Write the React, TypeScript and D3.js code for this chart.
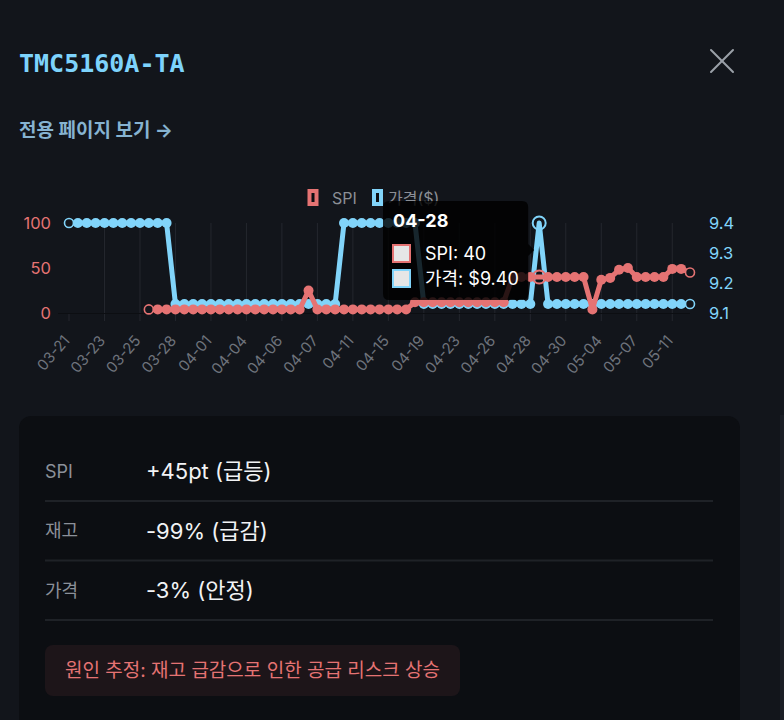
import React, { useEffect } from 'react';
import * as d3 from 'd3';

// ---------- data ----------
const categories: string[] = [
  '03-21', '03-21', '03-22', '03-22', '03-23', '03-23', '03-24', '03-24', '03-25', '03-25',
  '03-26', '03-27', '03-28', '03-29', '03-30', '03-31', '04-01', '04-02', '04-02', '04-03',
  '04-04', '04-04', '04-05', '04-05', '04-06', '04-06', '04-06', '04-07', '04-07', '04-08',
  '04-09', '04-10', '04-11', '04-12', '04-13', '04-14', '04-15', '04-16', '04-17', '04-18',
  '04-19', '04-20', '04-21', '04-22', '04-23', '04-24', '04-25', '04-25', '04-26', '04-27',
  '04-27', '04-28', '04-28', '04-28', '04-29', '04-29', '04-30', '05-01', '05-02', '05-03',
  '05-04', '05-05', '05-06', '05-06', '05-07', '05-08', '05-09', '05-10', '05-11', '05-12',
  '05-13',
];

const spiValues: (number | null)[] = [
  null, null, null, null, null, null, null, null, null, 4,
  4, 4, 4, 4, 4, 4, 4, 4, 4, 4,
  4, 4, 4, 4, 4, 4, 4, 25, 4, 4,
  4, 4, 4, 4, 4, 4, 4, 4, 4, 12,
  12, 12, 12, 12, 12, 12, 12, 12, 12, 12,
  40, 40, 40, 40, 40, 40, 40, 40, 40, 4,
  37, 39, 48, 50, 40, 40, 40, 40, 49, 49,
  45,
];

const priceValues: number[] = [
  9.4, 9.4, 9.4, 9.4, 9.4, 9.4, 9.4, 9.4, 9.4, 9.4,
  9.4, 9.4, 9.13, 9.13, 9.13, 9.13, 9.13, 9.13, 9.13, 9.13,
  9.13, 9.13, 9.13, 9.13, 9.13, 9.13, 9.13, 9.13, 9.13, 9.13,
  9.13, 9.4, 9.4, 9.4, 9.4, 9.4, 9.4, 9.4, 9.4, 9.4,
  9.13, 9.13, 9.13, 9.13, 9.13, 9.13, 9.13, 9.13, 9.13, 9.13,
  9.13, 9.13, 9.13, 9.4, 9.13, 9.13, 9.13, 9.13, 9.13, 9.13,
  9.13, 9.13, 9.13, 9.13, 9.13, 9.13, 9.13, 9.13, 9.13, 9.13,
  9.13,
];

const leftTicks = [0, 50, 100];
const rightTicks = [9.1, 9.2, 9.3, 9.4];
const tickStep = 4;
const hoverIndex = 53;
const legendLabels = ['SPI', '가격($)'];
const tooltipTitle = '04-28';
const tooltipLines = ['SPI: 40', '가격: $9.40'];
const tableLabels = ['SPI', '재고', '가격'];
const tableValues = ['+45pt (급등)', '-99% (급감)', '-3% (안정)'];
const partName = 'TMC5160A-TA';
const linkText = '전용 페이지 보기 →';
const causeText = '원인 추정: 재고 급감으로 인한 공급 리스크 상승';

// ---------- styles ----------
const BG = '#12151b';
const CARD = '#0c0e12';
const RED = '#e57373';
const BLUE = '#81d4fa';
const FONT = "Inter, 'Noto Sans CJK KR', 'Noto Sans', sans-serif";

export default function App() {
  useEffect(() => {
    document.body.style.margin = '0';
    document.body.style.background = BG;
  }, []);

  const W = 784;
  const H = 720;
  const left = 69;
  const right = 690;
  const top = 223;
  const bottom = 313;

  const x = d3.scalePoint<number>().domain(d3.range(categories.length)).range([left, right]);
  const yL = d3.scaleLinear().domain([0, 100]).range([bottom, top]);
  const yR = d3.scaleLinear().domain([9.1, 9.4]).range([bottom, top]);

  const spiLine = d3
    .line<number | null>()
    .defined((d) => d != null)
    .x((_, i) => x(i) as number)
    .y((d) => yL(d as number));
  const priceLine = d3
    .line<number>()
    .x((_, i) => x(i) as number)
    .y((d) => yR(d));

  const tickIdx = d3.range(0, categories.length, tickStep);
  const lastIdx = categories.length - 1;
  const firstSpi = spiValues.findIndex((v) => v != null);

  const hx = x(hoverIndex) as number;
  const hyP = yR(priceValues[hoverIndex]);
  const hyS = yL(spiValues[hoverIndex] as number);
  const caretY = (hyP + hyS) / 2;
  const tipRight = hx - 11;
  const tipLeft = 383;
  const tipTop = 201;
  const tipBottom = 300;

  const pointR = 5;

  const renderPoints = (
    vals: (number | null)[],
    yScale: (v: number) => number,
    color: string,
    first: number
  ) =>
    vals.map((v, i) => {
      if (v == null || i === hoverIndex) return null;
      const cx = x(i) as number;
      const cy = yScale(v);
      const hollow = i === first || i === lastIdx;
      return hollow ? (
        <circle key={i} cx={cx} cy={cy} r={pointR - 0.5} fill={BG} stroke={color} strokeWidth={1.6} />
      ) : (
        <circle key={i} cx={cx} cy={cy} r={pointR} fill={color} />
      );
    });

  return (
    <svg
      width={W}
      height={H}
      style={{ position: 'absolute', left: 0, top: 0, display: 'block' }}
      fontFamily={FONT}
    >
      <rect x={0} y={0} width={W} height={H} fill={BG} />
      <rect x={780} y={0} width={4} height={415} fill="#15181e" />
      <rect x={780} y={415} width={4} height={305} fill="#1b1e25" />

      {/* header */}
      <text
        x={19}
        y={63}
        dominantBaseline="central"
        fontFamily="'DejaVu Sans Mono', 'Liberation Mono', monospace"
        fontSize={25}
        fontWeight={600}
        fill="#7dd3fc"
      >
        {partName}
      </text>
      <g stroke="#9aa0a8" strokeWidth={2} strokeLinecap="round">
        <line x1={711} y1={50} x2={733} y2={72} />
        <line x1={733} y1={50} x2={711} y2={72} />
      </g>
      <text x={19} y={130} dominantBaseline="central" fontSize={19} fontWeight={700} fill="#86b3d1">
        {linkText}
      </text>

      {/* legend */}
      <rect x={309.5} y={191} width={7} height={13} fill="#0d0f13" stroke={RED} strokeWidth={4} />
      <text x={332} y={198} dominantBaseline="central" fontSize={16} fill="#8b8f96">
        {legendLabels[0]}
      </text>
      <rect x={374} y={191} width={7} height={13} fill="#0d0f13" stroke={BLUE} strokeWidth={4} />
      <text x={388} y={198} dominantBaseline="central" fontSize={16} fill="#8b8f96">
        {legendLabels[1]}
      </text>

      {/* grid */}
      <g stroke="#24272e" strokeWidth={1}>
        {tickIdx.map((i) => (
          <line
            key={i}
            x1={x(i) as number}
            x2={x(i) as number}
            y1={i === 0 ? bottom : top}
            y2={bottom + 8}
          />
        ))}
      </g>
      <line x1={58} x2={right} y1={bottom + 0.5} y2={bottom + 0.5} stroke="#0c0e12" strokeWidth={1} />

      {/* left axis */}
      {leftTicks.map((t) => (
        <text key={t} x={51} y={yL(t)} textAnchor="end" dominantBaseline="central" fontSize={16.5} fill={RED}>
          {t}
        </text>
      ))}
      {/* right axis */}
      {rightTicks.map((t) => (
        <text key={t} x={709} y={yR(t)} textAnchor="start" dominantBaseline="central" fontSize={16.5} fill={BLUE}>
          {t.toFixed(1)}
        </text>
      ))}
      {/* x labels */}
      {tickIdx.map((i) => (
        <text
          key={i}
          transform={`translate(${(x(i) as number) - 2.6},${337.6}) rotate(-49)`}
          textAnchor="end"
          dominantBaseline="central"
          fontSize={15}
          fill="#6e737c"
        >
          {categories[i]}
        </text>
      ))}

      {/* price series (drawn below) */}
      <path d={priceLine(priceValues) || ''} fill="none" stroke={BLUE} strokeWidth={5} strokeLinejoin="round" />
      {renderPoints(priceValues, yR, BLUE, 0)}

      {/* SPI series */}
      <path d={spiLine(spiValues) || ''} fill="none" stroke={RED} strokeWidth={5} strokeLinejoin="round" />
      {renderPoints(spiValues, yL, RED, firstSpi)}

      {/* hover rings */}
      <circle cx={hx} cy={hyP} r={6.5} fill="none" stroke={BLUE} strokeWidth={2} />
      <circle cx={hx} cy={hyS} r={6.5} fill="none" stroke={RED} strokeWidth={2} />

      {/* tooltip */}
      <g>
        <path
          d={`M${tipLeft + 6},${tipTop} H${tipRight - 6} Q${tipRight},${tipTop} ${tipRight},${tipTop + 6} V${caretY - 6} L${tipRight + 6},${caretY} L${tipRight},${caretY + 6} V${tipBottom - 6} Q${tipRight},${tipBottom} ${tipRight - 6},${tipBottom} H${tipLeft + 6} Q${tipLeft},${tipBottom} ${tipLeft},${tipBottom - 6} V${tipTop + 6} Q${tipLeft},${tipTop} ${tipLeft + 6},${tipTop} Z`}
          fill="rgba(0,0,0,0.82)"
        />
        <text x={393} y={220} dominantBaseline="central" fontSize={18} fontWeight={700} fill="#ffffff">
          {tooltipTitle}
        </text>
        <rect x={393} y={245} width={17} height={17} fill="#e6e6e6" stroke={RED} strokeWidth={2} />
        <text x={425} y={253} dominantBaseline="central" fontSize={18} fill="#ffffff">
          {tooltipLines[0]}
        </text>
        <rect x={393} y={270} width={17} height={17} fill="#e6e6e6" stroke={BLUE} strokeWidth={2} />
        <text x={425} y={278.5} dominantBaseline="central" fontSize={18} fill="#ffffff">
          {tooltipLines[1]}
        </text>
      </g>

      {/* summary card */}
      <rect x={19} y={416} width={721} height={340} rx={12} fill={CARD} />
      {tableLabels.map((lab, i) => (
        <g key={lab}>
          <text x={45} y={471 + i * 59.5} dominantBaseline="central" fontSize={18} fill="#8b9099">
            {lab}
          </text>
          <text x={146} y={471 + i * 59.5} dominantBaseline="central" fontSize={22} fill="#f2f3f5">
            {tableValues[i]}
          </text>
          <line x1={45} x2={713} y1={501 + i * 59.5} y2={501 + i * 59.5} stroke="#1f2227" strokeWidth={2} />
        </g>
      ))}
      <rect x={45} y={645} width={415} height={51} rx={8} fill="#1d1519" />
      <text x={65} y={670} dominantBaseline="central" fontSize={19} fill={RED}>
        {causeText}
      </text>
    </svg>
  );
}
